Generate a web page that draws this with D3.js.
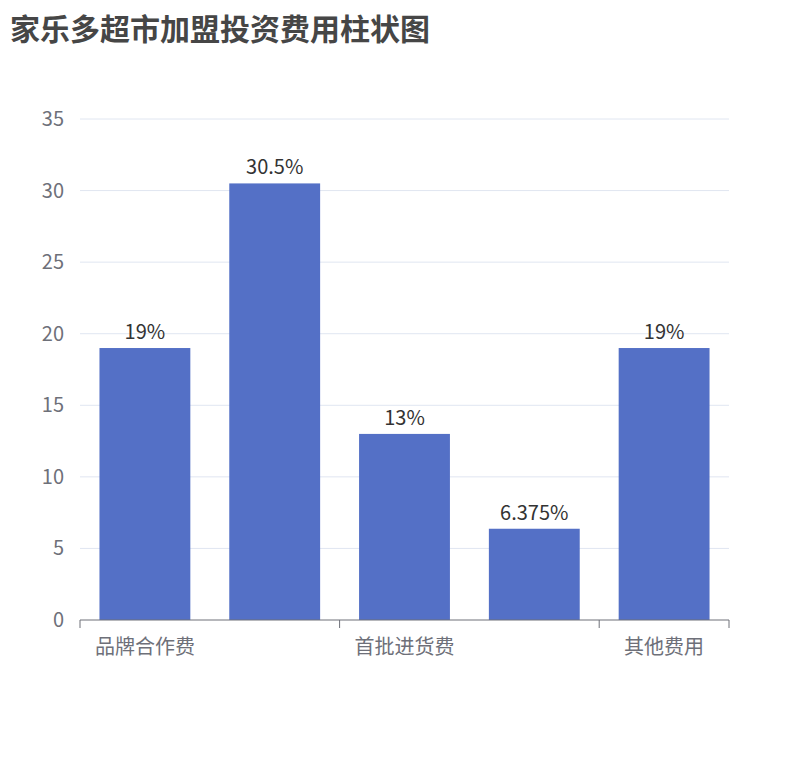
<!DOCTYPE html>
<html><head><meta charset="utf-8">
<script src="https://cdn.jsdelivr.net/npm/d3@7"></script>
<style>body{margin:0;background:#fff;font-family:"Noto Sans CJK SC","Noto Sans",sans-serif;}</style>
</head><body><svg id="chart" width="810" height="760"></svg>
<script>
// chart data
const categories = ["品牌合作费", "装修费用", "首批进货费", "设备费用", "其他费用"];
const values = [19, 30.5, 13, 6.375, 19];
const yTicks = [0, 5, 10, 15, 20, 25, 30, 35];

const svg = d3.select("#chart");
const plotLeft = 80, plotRight = 729, plotTop = 119, plotBottom = 620;

svg.append("text").attr("x", 10).attr("y", 40)
    .attr("font-size", 30).attr("font-weight", "bold").attr("fill", "#464646")
    .text("家乐多超市加盟投资费用柱状图");

const x = d3.scaleBand().domain(categories).range([plotLeft, plotRight]).paddingInner(0.3).paddingOuter(0.15);
const y = d3.scaleLinear().domain([0, 35]).range([plotBottom, plotTop]);

// grid + y labels
svg.append("g").selectAll("line").data(yTicks.filter(d => d > 0)).enter().append("line")
    .attr("x1", plotLeft).attr("x2", plotRight).attr("y1", d => y(d)).attr("y2", d => y(d))
    .attr("stroke", "#e0e6f1");
svg.append("g").selectAll("text").data(yTicks).enter().append("text")
    .attr("x", plotLeft - 16).attr("y", d => y(d)).attr("dy", "0.35em").attr("text-anchor", "end")
    .attr("font-size", 20).attr("fill", "#6e7079").text(d => d);

// bars
svg.append("g").selectAll("rect").data(values).enter().append("rect")
    .attr("x", (d, i) => x(categories[i])).attr("width", x.bandwidth())
    .attr("y", d => y(d)).attr("height", d => plotBottom - y(d)).attr("fill", "#5470c6");
svg.append("g").selectAll("text").data(values).enter().append("text")
    .attr("x", (d, i) => x(categories[i]) + x.bandwidth() / 2).attr("y", d => y(d) - 9)
    .attr("text-anchor", "middle").attr("font-size", 20).attr("fill", "#333")
    .text(d => d + "%");

// x axis
const step = (plotRight - plotLeft) / categories.length;
svg.append("line").attr("x1", plotLeft).attr("x2", plotRight).attr("y1", plotBottom).attr("y2", plotBottom).attr("stroke", "#6e7079");
const tickPos = [0, 2, 4].map(i => plotLeft + i * step).concat([plotRight]);
svg.append("g").selectAll("line").data(tickPos).enter().append("line")
    .attr("x1", d => d).attr("x2", d => d).attr("y1", plotBottom).attr("y2", plotBottom + 8).attr("stroke", "#6e7079");
svg.append("g").selectAll("text").data(categories.filter((c, i) => i % 2 === 0)).enter().append("text")
    .attr("x", d => x(d) + x.bandwidth() / 2).attr("y", plotBottom + 34)
    .attr("text-anchor", "middle").attr("font-size", 20).attr("fill", "#6e7079").text(d => d);
</script></body></html>
